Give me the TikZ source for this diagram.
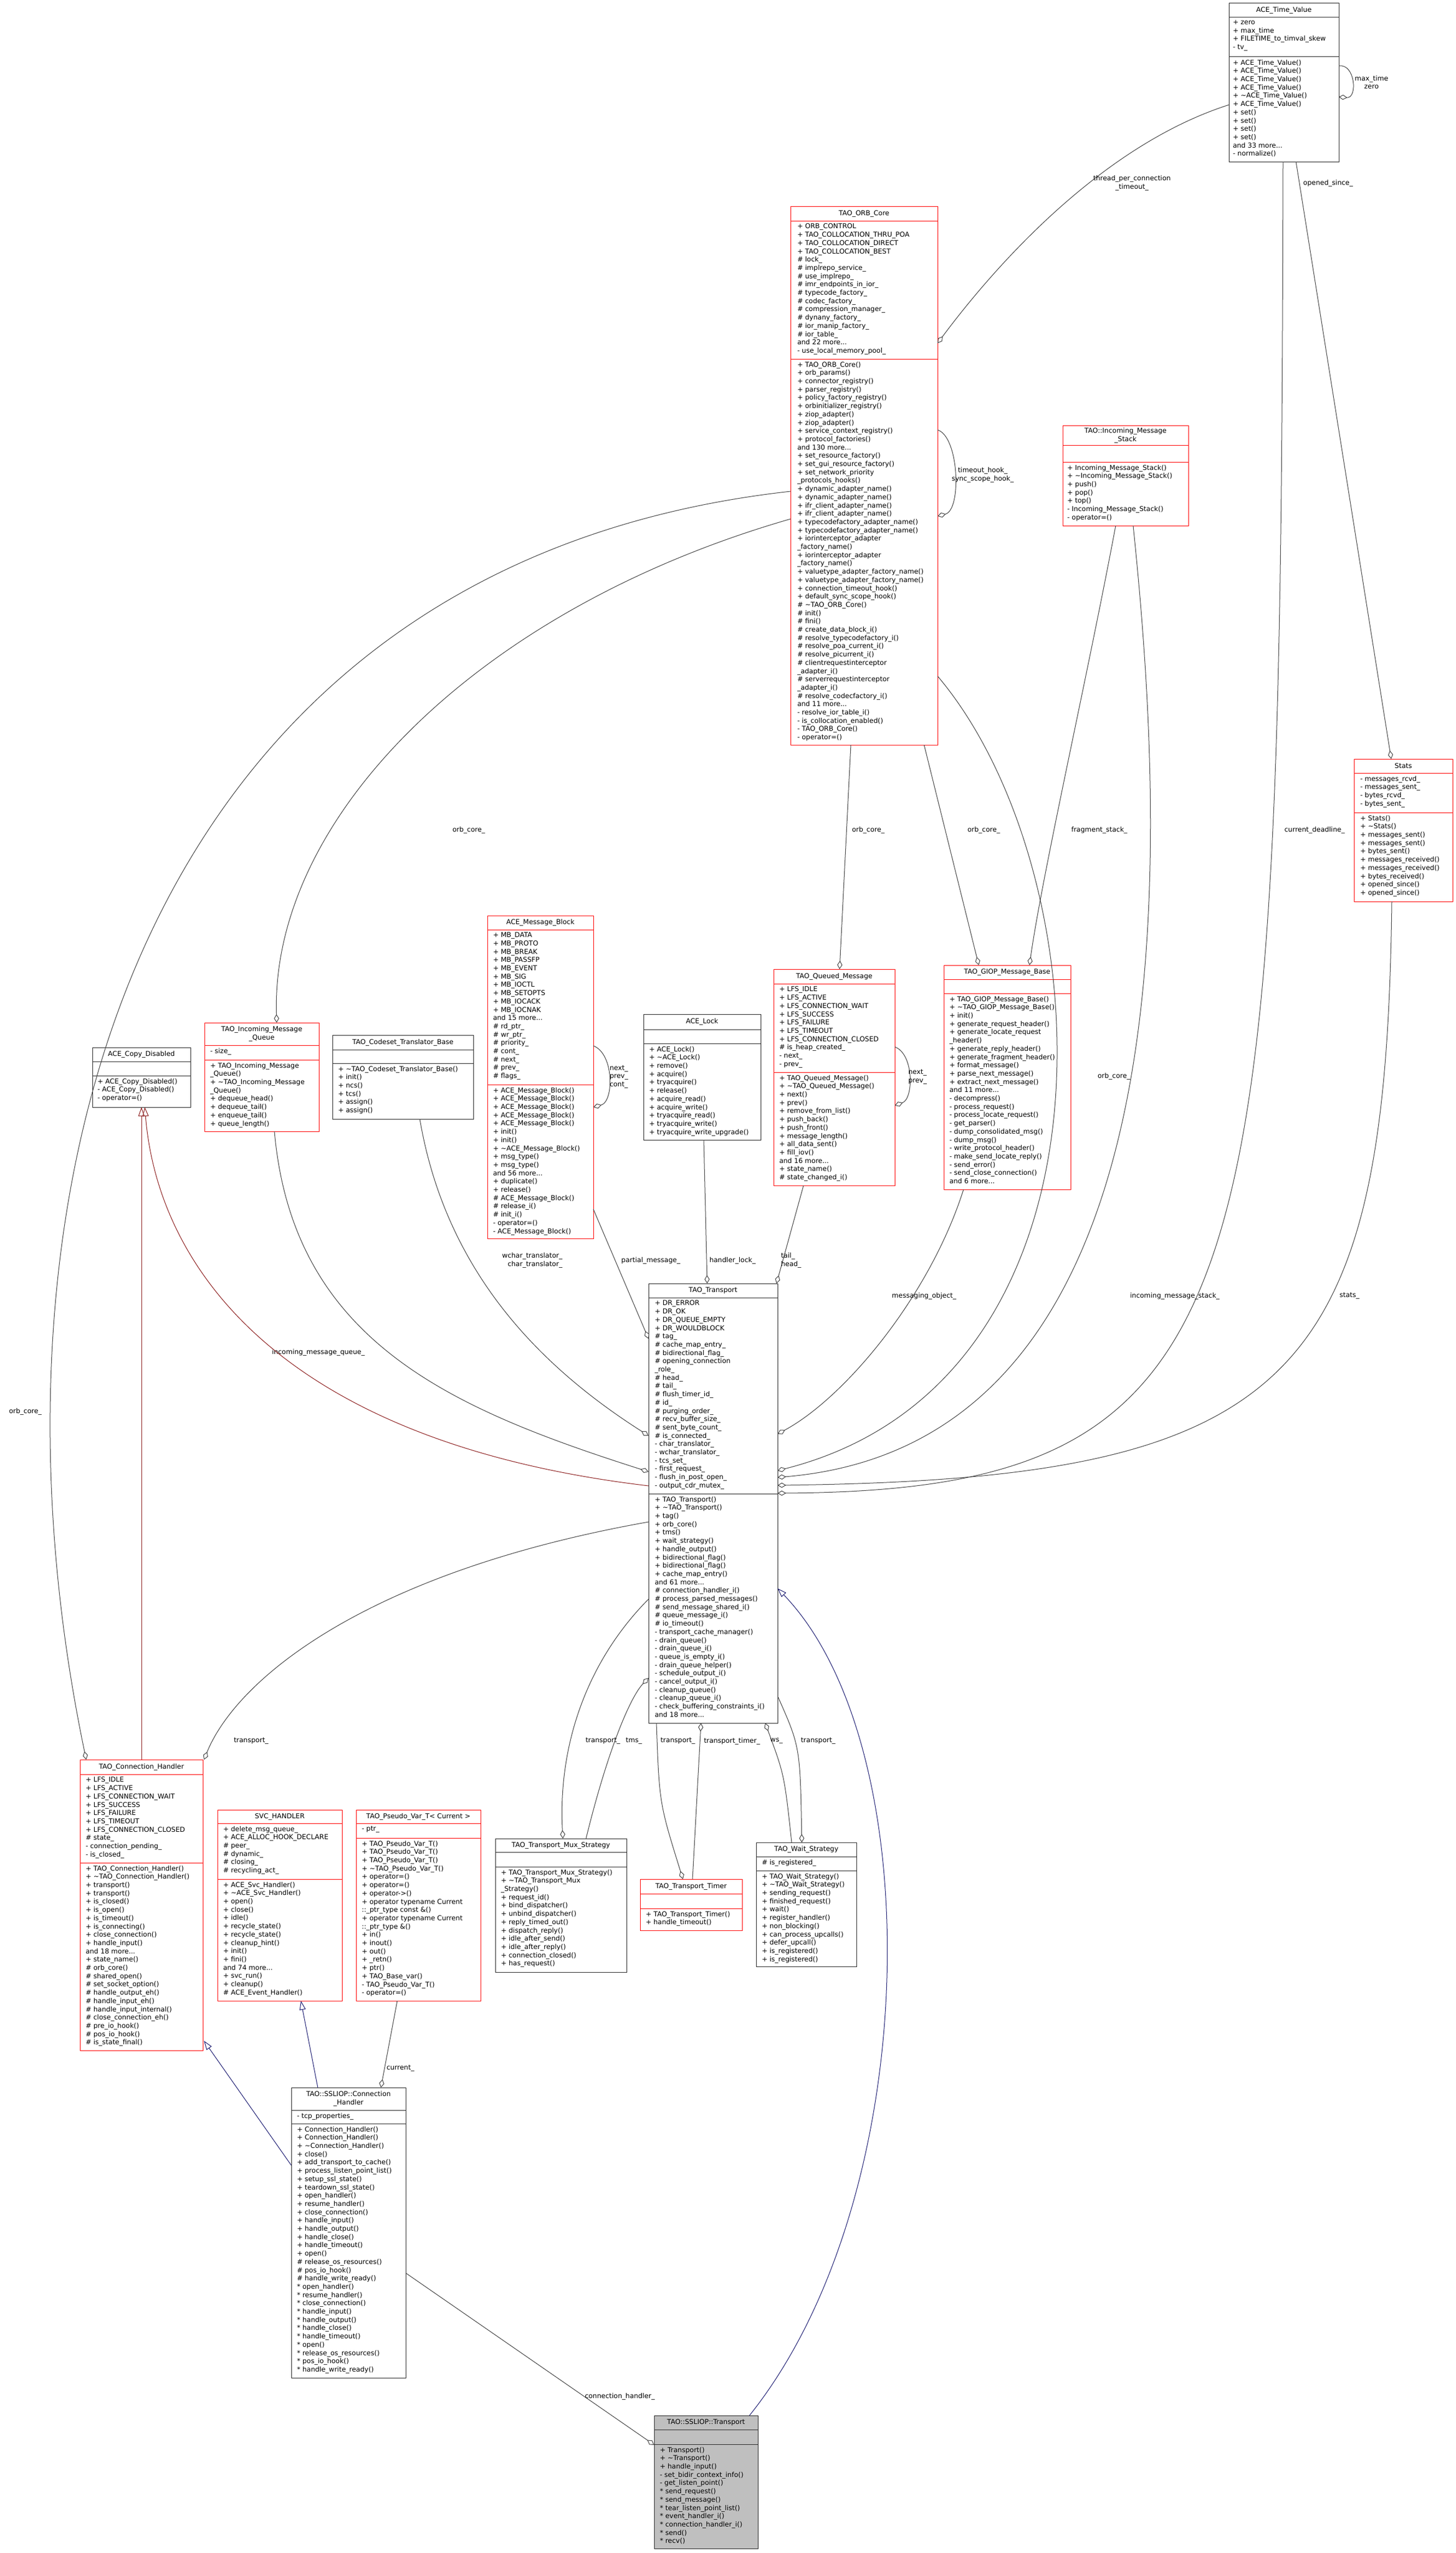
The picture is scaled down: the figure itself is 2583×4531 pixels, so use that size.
\documentclass[tikz,border=0pt]{standalone}
\usepackage{fontspec}
\setmainfont{DejaVu Sans}
\usetikzlibrary{arrows.meta,calc}
\definecolor{edgegray}{HTML}{404040}
\definecolor{inhblue}{HTML}{191970}
\definecolor{inhred}{HTML}{8B1A1A}
\newcommand\tld{\textasciitilde}
\tikzset{
 txt/.style={font=\fontsize{12}{14.7}\selectfont, inner sep=0pt, outer sep=0pt, align=left},
 lbl/.style={txt, align=center},
 redcls/.style={draw=red, line width=1pt, fill=white, inner sep=0pt, outer sep=0pt},
 redclssep/.style={draw=red, line width=1pt},
 blkcls/.style={draw=black!85, line width=1pt, fill=white, inner sep=0pt, outer sep=0pt},
 blkclssep/.style={draw=black!85, line width=1pt},
 grycls/.style={draw=black!85, line width=1pt, fill=black!25, inner sep=0pt, outer sep=0pt},
 gryclssep/.style={draw=black!85, line width=1pt},
 agg/.style={draw=edgegray, line width=1pt, -{Diamond[open,length=15pt,width=9pt]}},
 inhb/.style={draw=inhblue, line width=1pt, -{Triangle[open,length=16pt,width=11pt]}},
 inhr/.style={draw=inhred, line width=1pt, -{Triangle[open,length=16pt,width=11pt]}},
}
% name x1 y1 x2 y2 s1 s2 style title
\newcommand\umlcls[9]{%
 \expandafter\gdef\csname cx#1\endcsname{#2}%
 \expandafter\gdef\csname cy#1\endcsname{#3}%
 \node[#8, anchor=north west, minimum width=#4pt-#2pt, minimum height=#5pt-#3pt] (#1) at (#2,-#3) {};
 \draw[#8sep] (#2,-#6) -- (#4,-#6) (#2,-#7) -- (#4,-#7);
 \node[lbl] (#1-t) at ({(#2+#4)/2},{-(#3+#6)/2}) {#9};
}
\newcommand\umlsec[4]{\node[txt, anchor=north west] (#1) at (#2,-#3) {#4};}
\newcommand\pA[3]{($(#1.north west)+({#2-\csname cx#1\endcsname},{\csname cy#1\endcsname-#3})$)}
\begin{document}
\begin{tikzpicture}[x=1pt,y=1pt]
\useasboundingbox (0,0) rectangle (2583,-4531);
\fill[white] (0,0) rectangle (2583,-4531);

\umlcls{tv}{2181}{6}{2376}{287}{31}{101}{blkcls}{ACE\_Time\_Value}
\umlsec{tv-a}{2188}{36}{+ zero\\+ max\_time\\+ FILETIME\_to\_timval\_skew\\- tv\_}
\umlsec{tv-m}{2188}{106}{+ ACE\_Time\_Value()\\+ ACE\_Time\_Value()\\+ ACE\_Time\_Value()\\+ ACE\_Time\_Value()\\+ \tld ACE\_Time\_Value()\\+ ACE\_Time\_Value()\\+ set()\\+ set()\\+ set()\\+ set()\\and 33 more...\\- normalize()}

\umlcls{orb}{1403}{366}{1664}{1322}{392}{637}{redcls}{TAO\_ORB\_Core}
\umlsec{orb-a}{1415}{397}{+ ORB\_CONTROL\\+ TAO\_COLLOCATION\_THRU\_POA\\+ TAO\_COLLOCATION\_DIRECT\\+ TAO\_COLLOCATION\_BEST\\\# lock\_\\\# implrepo\_service\_\\\# use\_implrepo\_\\\# imr\_endpoints\_in\_ior\_\\\# typecode\_factory\_\\\# codec\_factory\_\\\# compression\_manager\_\\\# dynany\_factory\_\\\# ior\_manip\_factory\_\\\# ior\_table\_\\and 22 more...\\- use\_local\_memory\_pool\_}
\umlsec{orb-m}{1415}{642}{+ TAO\_ORB\_Core()\\+ orb\_params()\\+ connector\_registry()\\+ parser\_registry()\\+ policy\_factory\_registry()\\+ orbinitializer\_registry()\\+ ziop\_adapter()\\+ ziop\_adapter()\\+ service\_context\_registry()\\+ protocol\_factories()\\and 130 more...\\+ set\_resource\_factory()\\+ set\_gui\_resource\_factory()\\+ set\_network\_priority\\\_protocols\_hooks()\\+ dynamic\_adapter\_name()\\+ dynamic\_adapter\_name()\\+ ifr\_client\_adapter\_name()\\+ ifr\_client\_adapter\_name()\\+ typecodefactory\_adapter\_name()\\+ typecodefactory\_adapter\_name()\\+ iorinterceptor\_adapter\\\_factory\_name()\\+ iorinterceptor\_adapter\\\_factory\_name()\\+ valuetype\_adapter\_factory\_name()\\+ valuetype\_adapter\_factory\_name()\\+ connection\_timeout\_hook()\\+ default\_sync\_scope\_hook()\\\# \tld TAO\_ORB\_Core()\\\# init()\\\# fini()\\\# create\_data\_block\_i()\\\# resolve\_typecodefactory\_i()\\\# resolve\_poa\_current\_i()\\\# resolve\_picurrent\_i()\\\# clientrequestinterceptor\\\_adapter\_i()\\\# serverrequestinterceptor\\\_adapter\_i()\\\# resolve\_codecfactory\_i()\\and 11 more...\\- resolve\_ior\_table\_i()\\- is\_collocation\_enabled()\\- TAO\_ORB\_Core()\\- operator=()}

\umlcls{ms}{1886}{755}{2109}{933}{790}{820}{redcls}{TAO::Incoming\_Message\\\_Stack}
\umlsec{ms-m}{1894}{825}{+ Incoming\_Message\_Stack()\\+ \tld Incoming\_Message\_Stack()\\+ push()\\+ pop()\\+ top()\\- Incoming\_Message\_Stack()\\- operator=()}

\umlcls{st}{2403}{1347}{2578}{1600}{1372}{1442}{redcls}{Stats}
\umlsec{st-a}{2414}{1377}{- messages\_rcvd\_\\- messages\_sent\_\\- bytes\_rcvd\_\\- bytes\_sent\_}
\umlsec{st-m}{2414}{1447}{+ Stats()\\+ \tld Stats()\\+ messages\_sent()\\+ messages\_sent()\\+ bytes\_sent()\\+ messages\_received()\\+ messages\_received()\\+ bytes\_received()\\+ opened\_since()\\+ opened\_since()}

\umlcls{cd}{164}{1859}{338}{1965}{1884}{1909}{blkcls}{ACE\_Copy\_Disabled}
\umlsec{cd-m}{173}{1914}{+ ACE\_Copy\_Disabled()\\- ACE\_Copy\_Disabled()\\- operator=()}

\umlcls{mq}{363}{1815}{566}{2008}{1855}{1881}{redcls}{TAO\_Incoming\_Message\\\_Queue}
\umlsec{mq-a}{373}{1860}{- size\_}
\umlsec{mq-m}{373}{1886}{+ TAO\_Incoming\_Message\\\_Queue()\\+ \tld TAO\_Incoming\_Message\\\_Queue()\\+ dequeue\_head()\\+ dequeue\_tail()\\+ enqueue\_tail()\\+ queue\_length()}

\umlcls{cs}{590}{1837}{840}{1986}{1863}{1887}{blkcls}{TAO\_Codeset\_Translator\_Base}
\umlsec{cs-m}{600}{1892}{+ \tld TAO\_Codeset\_Translator\_Base()\\+ init()\\+ ncs()\\+ tcs()\\+ assign()\\+ assign()}

\umlcls{mb}{865}{1625}{1053}{2198}{1650}{1925}{redcls}{ACE\_Message\_Block}
\umlsec{mb-a}{875}{1655}{+ MB\_DATA\\+ MB\_PROTO\\+ MB\_BREAK\\+ MB\_PASSFP\\+ MB\_EVENT\\+ MB\_SIG\\+ MB\_IOCTL\\+ MB\_SETOPTS\\+ MB\_IOCACK\\+ MB\_IOCNAK\\and 15 more...\\\# rd\_ptr\_\\\# wr\_ptr\_\\\# priority\_\\\# cont\_\\\# next\_\\\# prev\_\\\# flags\_}
\umlsec{mb-m}{875}{1930}{+ ACE\_Message\_Block()\\+ ACE\_Message\_Block()\\+ ACE\_Message\_Block()\\+ ACE\_Message\_Block()\\+ ACE\_Message\_Block()\\+ init()\\+ init()\\+ \tld ACE\_Message\_Block()\\+ msg\_type()\\+ msg\_type()\\and 56 more...\\+ duplicate()\\+ release()\\\# ACE\_Message\_Block()\\\# release\_i()\\\# init\_i()\\- operator=()\\- ACE\_Message\_Block()}

\umlcls{lk}{1142}{1800}{1350}{2023}{1827}{1852}{blkcls}{ACE\_Lock}
\umlsec{lk-m}{1152}{1857}{+ ACE\_Lock()\\+ \tld ACE\_Lock()\\+ remove()\\+ acquire()\\+ tryacquire()\\+ release()\\+ acquire\_read()\\+ acquire\_write()\\+ tryacquire\_read()\\+ tryacquire\_write()\\+ tryacquire\_write\_upgrade()}

\umlcls{qm}{1373}{1720}{1588}{2104}{1746}{1903}{redcls}{TAO\_Queued\_Message}
\umlsec{qm-a}{1383}{1751}{+ LFS\_IDLE\\+ LFS\_ACTIVE\\+ LFS\_CONNECTION\_WAIT\\+ LFS\_SUCCESS\\+ LFS\_FAILURE\\+ LFS\_TIMEOUT\\+ LFS\_CONNECTION\_CLOSED\\\# is\_heap\_created\_\\- next\_\\- prev\_}
\umlsec{qm-m}{1383}{1908}{+ TAO\_Queued\_Message()\\+ \tld TAO\_Queued\_Message()\\+ next()\\+ prev()\\+ remove\_from\_list()\\+ push\_back()\\+ push\_front()\\+ message\_length()\\+ all\_data\_sent()\\+ fill\_iov()\\and 16 more...\\+ state\_name()\\\# state\_changed\_i()}

\umlcls{gi}{1675}{1713}{1900}{2111}{1738}{1763}{redcls}{TAO\_GIOP\_Message\_Base}
\umlsec{gi-m}{1685}{1768}{+ TAO\_GIOP\_Message\_Base()\\+ \tld TAO\_GIOP\_Message\_Base()\\+ init()\\+ generate\_request\_header()\\+ generate\_locate\_request\\\_header()\\+ generate\_reply\_header()\\+ generate\_fragment\_header()\\+ format\_message()\\+ parse\_next\_message()\\+ extract\_next\_message()\\and 11 more...\\- decompress()\\- process\_request()\\- process\_locate\_request()\\- get\_parser()\\- dump\_consolidated\_msg()\\- dump\_msg()\\- write\_protocol\_header()\\- make\_send\_locate\_reply()\\- send\_error()\\- send\_close\_connection()\\and 6 more...}

\umlcls{tr}{1151}{2278}{1380}{3058}{2303}{2651}{blkcls}{TAO\_Transport}
\umlsec{tr-a}{1162}{2308}{+ DR\_ERROR\\+ DR\_OK\\+ DR\_QUEUE\_EMPTY\\+ DR\_WOULDBLOCK\\\# tag\_\\\# cache\_map\_entry\_\\\# bidirectional\_flag\_\\\# opening\_connection\\\_role\_\\\# head\_\\\# tail\_\\\# flush\_timer\_id\_\\\# id\_\\\# purging\_order\_\\\# recv\_buffer\_size\_\\\# sent\_byte\_count\_\\\# is\_connected\_\\- char\_translator\_\\- wchar\_translator\_\\- tcs\_set\_\\- first\_request\_\\- flush\_in\_post\_open\_\\- output\_cdr\_mutex\_}
\umlsec{tr-m}{1162}{2656}{+ TAO\_Transport()\\+ \tld TAO\_Transport()\\+ tag()\\+ orb\_core()\\+ tms()\\+ wait\_strategy()\\+ handle\_output()\\+ bidirectional\_flag()\\+ bidirectional\_flag()\\+ cache\_map\_entry()\\and 61 more...\\\# connection\_handler\_i()\\\# process\_parsed\_messages()\\\# send\_message\_shared\_i()\\\# queue\_message\_i()\\\# io\_timeout()\\- transport\_cache\_manager()\\- drain\_queue()\\- drain\_queue\_i()\\- queue\_is\_empty\_i()\\- drain\_queue\_helper()\\- schedule\_output\_i()\\- cancel\_output\_i()\\- cleanup\_queue()\\- cleanup\_queue\_i()\\- check\_buffering\_constraints\_i()\\and 18 more...}

\umlcls{ch}{142}{3123}{360}{3639}{3149}{3306}{redcls}{TAO\_Connection\_Handler}
\umlsec{ch-a}{152}{3154}{+ LFS\_IDLE\\+ LFS\_ACTIVE\\+ LFS\_CONNECTION\_WAIT\\+ LFS\_SUCCESS\\+ LFS\_FAILURE\\+ LFS\_TIMEOUT\\+ LFS\_CONNECTION\_CLOSED\\\# state\_\\- connection\_pending\_\\- is\_closed\_}
\umlsec{ch-m}{152}{3311}{+ TAO\_Connection\_Handler()\\+ \tld TAO\_Connection\_Handler()\\+ transport()\\+ transport()\\+ is\_closed()\\+ is\_open()\\+ is\_timeout()\\+ is\_connecting()\\+ close\_connection()\\+ handle\_input()\\and 18 more...\\+ state\_name()\\\# orb\_core()\\\# shared\_open()\\\# set\_socket\_option()\\\# handle\_output\_eh()\\\# handle\_input\_eh()\\\# handle\_input\_internal()\\\# close\_connection\_eh()\\\# pre\_io\_hook()\\\# pos\_io\_hook()\\\# is\_state\_final()}

\umlcls{sv}{386}{3212}{607}{3551}{3236}{3335}{redcls}{SVC\_HANDLER}
\umlsec{sv-a}{396}{3241}{+ delete\_msg\_queue\_\\+ ACE\_ALLOC\_HOOK\_DECLARE\\\# peer\_\\\# dynamic\_\\\# closing\_\\\# recycling\_act\_}
\umlsec{sv-m}{396}{3340}{+ ACE\_Svc\_Handler()\\+ \tld ACE\_Svc\_Handler()\\+ open()\\+ close()\\+ idle()\\+ recycle\_state()\\+ recycle\_state()\\+ cleanup\_hint()\\+ init()\\+ fini()\\and 74 more...\\+ svc\_run()\\+ cleanup()\\\# ACE\_Event\_Handler()}

\umlcls{pv}{632}{3212}{853}{3551}{3236}{3262}{redcls}{TAO\_Pseudo\_Var\_T< Current >}
\umlsec{pv-a}{642}{3241}{- ptr\_}
\umlsec{pv-m}{642}{3267}{+ TAO\_Pseudo\_Var\_T()\\+ TAO\_Pseudo\_Var\_T()\\+ TAO\_Pseudo\_Var\_T()\\+ \tld TAO\_Pseudo\_Var\_T()\\+ operator=()\\+ operator=()\\+ operator->()\\+ operator typename Current\\::\_ptr\_type const \&()\\+ operator typename Current\\::\_ptr\_type \&()\\+ in()\\+ inout()\\+ out()\\+ \_retn()\\+ ptr()\\+ TAO\_Base\_var()\\- TAO\_Pseudo\_Var\_T()\\- operator=()}

\umlcls{mx}{879}{3263}{1112}{3500}{3287}{3313}{blkcls}{TAO\_Transport\_Mux\_Strategy}
\umlsec{mx-m}{889}{3318}{+ TAO\_Transport\_Mux\_Strategy()\\+ \tld TAO\_Transport\_Mux\\\_Strategy()\\+ request\_id()\\+ bind\_dispatcher()\\+ unbind\_dispatcher()\\+ reply\_timed\_out()\\+ dispatch\_reply()\\+ idle\_after\_send()\\+ idle\_after\_reply()\\+ connection\_closed()\\+ has\_request()}

\umlcls{tm}{1136}{3335}{1317}{3426}{3361}{3387}{redcls}{TAO\_Transport\_Timer}
\umlsec{tm-m}{1146}{3392}{+ TAO\_Transport\_Timer()\\+ handle\_timeout()}

\umlcls{ws}{1342}{3270}{1520}{3490}{3295}{3320}{blkcls}{TAO\_Wait\_Strategy}
\umlsec{ws-a}{1352}{3300}{\# is\_registered\_}
\umlsec{ws-m}{1352}{3325}{+ TAO\_Wait\_Strategy()\\+ \tld TAO\_Wait\_Strategy()\\+ sending\_request()\\+ finished\_request()\\+ wait()\\+ register\_handler()\\+ non\_blocking()\\+ can\_process\_upcalls()\\+ defer\_upcall()\\+ is\_registered()\\+ is\_registered()}

\umlcls{sc}{517}{3705}{720}{4220}{3745}{3769}{blkcls}{TAO::SSLIOP::Connection\\\_Handler}
\umlsec{sc-a}{527}{3750}{- tcp\_properties\_}
\umlsec{sc-m}{527}{3774}{+ Connection\_Handler()\\+ Connection\_Handler()\\+ \tld Connection\_Handler()\\+ close()\\+ add\_transport\_to\_cache()\\+ process\_listen\_point\_list()\\+ setup\_ssl\_state()\\+ teardown\_ssl\_state()\\+ open\_handler()\\+ resume\_handler()\\+ close\_connection()\\+ handle\_input()\\+ handle\_output()\\+ handle\_close()\\+ handle\_timeout()\\+ open()\\\# release\_os\_resources()\\\# pos\_io\_hook()\\\# handle\_write\_ready()\\* open\_handler()\\* resume\_handler()\\* close\_connection()\\* handle\_input()\\* handle\_output()\\* handle\_close()\\* handle\_timeout()\\* open()\\* release\_os\_resources()\\* pos\_io\_hook()\\* handle\_write\_ready()}

\umlcls{sp}{1161}{4287}{1345}{4523}{4312}{4338}{grycls}{TAO::SSLIOP::Transport}
\umlsec{sp-m}{1171}{4343}{\fontsize{12}{13.75}\selectfont + Transport()\\+ \tld Transport()\\+ handle\_input()\\- set\_bidir\_context\_info()\\- get\_listen\_point()\\* send\_request()\\* send\_message()\\* tear\_listen\_point\_list()\\* event\_handler\_i()\\* connection\_handler\_i()\\* send()\\* recv()}

% ---------- connectors ----------
\draw[agg] \pA{tv}{2376}{117} .. controls (2405,-112) and (2410,-175) .. \pA{tv}{2376}{172};
\node[lbl] (l1) at (2434,-146) {max\_time\\zero};
\draw[agg] \pA{tv}{2181}{186} .. controls (1950,-260) and (1760,-480) .. \pA{orb}{1664}{609};
\node[lbl] (l2) at (2009,-325) {thread\_per\_connection\\\_timeout\_};
\draw[agg] \pA{orb}{1664}{763} .. controls (1702,-775) and (1707,-905) .. \pA{orb}{1664}{916};
\node[lbl] (l3) at (1744,-843) {timeout\_hook\_\\sync\_scope\_hook\_};
\draw[agg] \pA{tv}{2277}{287} .. controls (2272,-2300) and (2250,-2645) .. \pA{tr}{1380}{2650};
\node[lbl] (l4) at (2333,-1473) {current\_deadline\_};
\draw[agg] \pA{tv}{2300}{287} -- \pA{st}{2469}{1347};
\node[lbl] (l5) at (2357,-325) {opened\_since\_};
\draw[agg] \pA{st}{2470}{1600} .. controls (2460,-2450) and (2300,-2625) .. \pA{tr}{1380}{2636};
\node[lbl] (l6) at (2395,-2300) {stats\_};
\draw[agg] \pA{ms}{1980}{933} .. controls (1930,-1200) and (1850,-1550) .. \pA{gi}{1827}{1713};
\node[lbl] (l7) at (1951,-1473) {fragment\_stack\_};
\draw[agg] \pA{ms}{2011}{933} .. controls (2070,-1500) and (2120,-2560) .. \pA{tr}{1380}{2622};
\node[lbl] (l8) at (2085,-2300) {incoming\_message\_stack\_};
\draw[agg] \pA{orb}{1510}{1322} -- \pA{qm}{1490}{1720};
\node[txt, anchor=west] (l9) at (1512,-1473) {orb\_core\_};
\draw[agg] \pA{orb}{1640}{1322} -- \pA{gi}{1737}{1713};
\node[lbl] (l10) at (1746,-1473) {orb\_core\_};
\draw[agg] \pA{orb}{1664}{1200} .. controls (1960,-1550) and (2010,-2450) .. \pA{tr}{1380}{2610};
\node[lbl] (l11) at (1977,-1910) {orb\_core\_};
\draw[agg] \pA{orb}{1403}{872} .. controls (250,-1000) and (-60,-2100) .. \pA{ch}{153}{3123};
\node[lbl] (l12) at (45,-2505) {orb\_core\_};
\draw[agg] \pA{orb}{1403}{921} .. controls (850,-1080) and (480,-1450) .. \pA{mq}{491}{1815};
\node[lbl] (l13) at (832,-1473) {orb\_core\_};
\draw[agg] \pA{mb}{1053}{1856} .. controls (1090,-1870) and (1090,-1955) .. \pA{mb}{1053}{1965};
\node[txt, anchor=west] (l14) at (1082,-1911) {next\_\\prev\_\\cont\_};
\draw[agg] \pA{qm}{1588}{1858} .. controls (1622,-1870) and (1622,-1950) .. \pA{qm}{1588}{1962};
\node[txt, anchor=west] (l15) at (1612,-1911) {next\_\\prev\_};
\draw[agg] \pA{mb}{1053}{2146} -- \pA{tr}{1151}{2376};
\node[lbl] (l16) at (1155,-2237) {partial\_message\_};
\draw[agg] \pA{lk}{1249}{2023} -- \pA{tr}{1255}{2278};
\node[txt, anchor=west] (l17) at (1259,-2237) {handler\_lock\_};
\draw[agg] \pA{qm}{1426}{2104} -- \pA{tr}{1378}{2278};
\node[txt, anchor=west] (l18) at (1386,-2237) {tail\_\\head\_};
\draw[agg] \pA{cs}{745}{1986} .. controls (790,-2250) and (950,-2420) .. \pA{tr}{1151}{2548};
\node[txt, anchor=east, align=right] (l19) at (998,-2237) {wchar\_translator\_\\char\_translator\_};
\draw[agg] \pA{mq}{487}{2008} .. controls (520,-2380) and (800,-2500) .. \pA{tr}{1151}{2612};
\node[lbl] (l20) at (565,-2400) {incoming\_message\_queue\_};
\draw[inhr] \pA{tr}{1151}{2637} .. controls (500,-2560) and (280,-2250) .. \pA{cd}{257}{1965};
\draw[inhr] \pA{ch}{251}{3123} -- \pA{cd}{251}{1965};
\draw[agg] \pA{gi}{1710}{2111} .. controls (1650,-2300) and (1500,-2480) .. \pA{tr}{1380}{2545};
\node[lbl] (l21) at (1640,-2300) {messaging\_object\_};
\draw[agg] \pA{tr}{1151}{2701} .. controls (650,-2790) and (420,-2980) .. \pA{ch}{362}{3123};
\node[txt, anchor=west] (l22) at (415,-3090) {transport\_};
\draw[agg] \pA{tr}{1151}{2838} .. controls (1040,-2950) and (990,-3100) .. \pA{mx}{999}{3263};
\node[lbl] (l23) at (1070,-3090) {transport\_};
\draw[agg] \pA{mx}{1040}{3263} .. controls (1080,-3100) and (1120,-3010) .. \pA{tr}{1151}{2978};
\node[lbl] (l24) at (1125,-3090) {tms\_};
\draw[agg] \pA{tr}{1165}{3058} .. controls (1170,-3200) .. \pA{tm}{1212}{3335};
\node[lbl] (l25) at (1203,-3090) {transport\_};
\draw[agg] \pA{tm}{1229}{3335} -- \pA{tr}{1244}{3058};
\node[lbl] (l26) at (1299,-3090) {transport\_timer\_};
\draw[agg] \pA{ws}{1405}{3270} .. controls (1392,-3150) .. \pA{tr}{1358}{3058};
\node[lbl] (l27) at (1378,-3090) {ws\_};
\draw[agg] \pA{tr}{1380}{3010} .. controls (1420,-3100) .. \pA{ws}{1423}{3270};
\node[lbl] (l28) at (1452,-3090) {transport\_};
\draw[inhb] \pA{sp}{1330}{4287} .. controls (1640,-3900) and (1650,-3100) .. \pA{tr}{1380}{2819};
\draw[inhb] \pA{sc}{564}{3705} -- \pA{sv}{534}{3551};
\draw[inhb] \pA{sc}{517}{3843} -- \pA{ch}{362}{3622};
\draw[agg] \pA{pv}{705}{3551} -- \pA{sc}{676}{3705};
\node[txt, anchor=west] (l29) at (686,-3671) {current\_};
\draw[agg] \pA{sc}{720}{4034} -- \pA{sp}{1161}{4339};
\node[lbl] (l30) at (1100,-4253) {connection\_handler\_};
\end{tikzpicture}
\end{document}
